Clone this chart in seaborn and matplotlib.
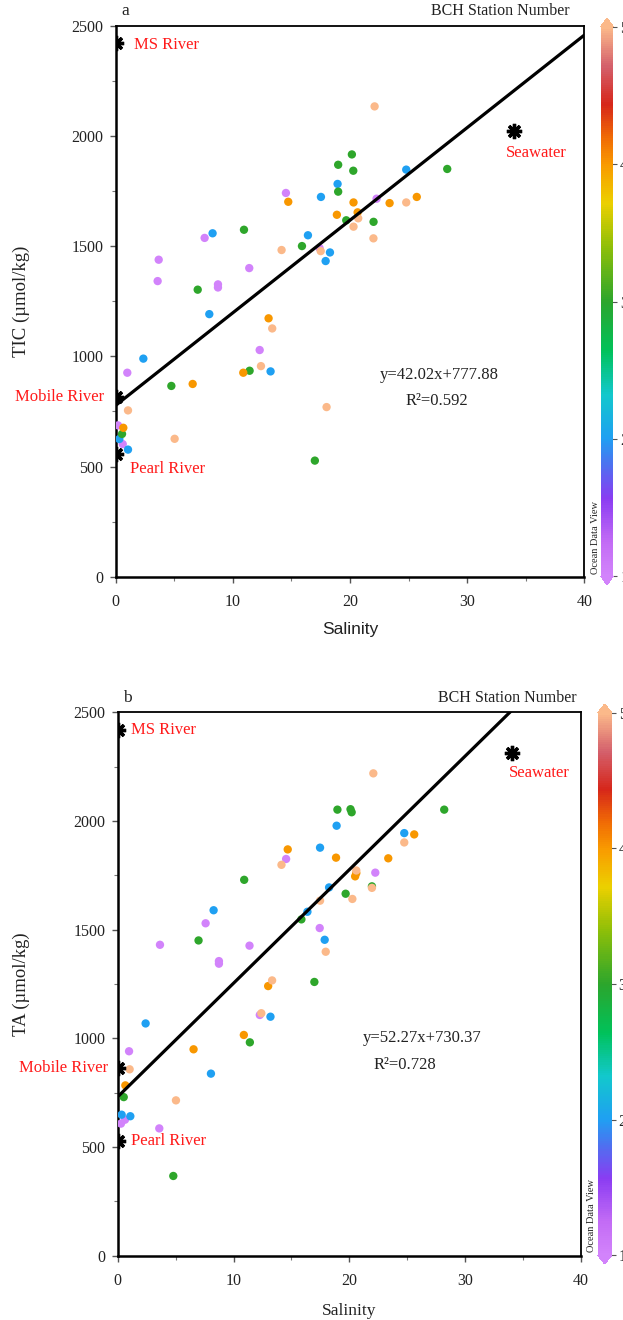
import numpy as np
import pandas as pd
import matplotlib
matplotlib.use("Agg")
import matplotlib.pyplot as plt
import seaborn as sns
from matplotlib.colors import LinearSegmentedColormap, Normalize
from matplotlib.cm import ScalarMappable
import matplotlib.ticker as mticker

# ---------------- data ----------------
# Panel a: salinity vs TIC, coloured by BCH station number
sal_a = [14.53, 22.27, 7.59, 3.67, 3.58, 11.4, 8.73, 8.73, 12.29, 0.99, 0.2, 0.6, 17.4,
         24.8, 18.94, 17.52, 8.27, 16.41, 18.29, 17.92, 7.99, 2.36, 13.22, 0.31, 1.05,
         20.16, 18.99, 20.28, 18.99, 19.68, 22.01, 10.95, 15.9, 7.0, 11.43, 4.75, 0.54, 17.0, 28.3,
         14.73, 20.3, 23.38, 25.7, 18.88, 20.65, 13.05, 10.89, 6.57, 0.65,
         22.1, 24.8, 20.7, 20.3, 22.0, 14.16, 17.5, 13.36, 12.4, 1.05, 18.0, 5.03]
tic_a = [1742, 1716, 1538, 1439, 1342, 1401, 1327, 1313, 1029, 926, 687, 602, 1492,
         1848, 1783, 1724, 1559, 1550, 1472, 1433, 1192, 990, 932, 625, 577,
         1917, 1870, 1843, 1748, 1618, 1611, 1575, 1501, 1303, 935, 866, 648, 527, 1851,
         1702, 1699, 1696, 1724, 1643, 1654, 1173, 926, 875, 676,
         2135, 1699, 1627, 1589, 1536, 1483, 1478, 1127, 956, 755, 770, 626]
stn_a = [1] * 13 + [2] * 12 + [3] * 14 + [4] * 10 + [5] * 12

# Panel b: salinity vs TA
sal_b = [14.54, 22.24, 7.59, 17.44, 3.65, 11.38, 8.74, 8.74, 12.27, 0.98, 0.63, 0.28, 3.59,
         18.9, 24.74, 17.47, 18.25, 16.38, 8.28, 17.87, 13.19, 2.41, 8.05, 0.34, 1.09,
         18.97, 20.1, 20.2, 28.19, 21.95, 10.92, 19.68, 15.86, 6.98, 16.98, 11.41, 0.52, 4.8,
         25.6, 14.68, 18.85, 23.36, 20.6, 20.5, 12.99, 10.89, 6.55, 0.66,
         22.07, 24.74, 14.14, 20.6, 21.95, 20.26, 17.47, 17.96, 13.33, 12.4, 1.03, 5.03]
ta_b = [1825, 1762, 1529, 1507, 1430, 1426, 1355, 1343, 1107, 940, 625, 607, 585,
        1978, 1944, 1877, 1694, 1582, 1589, 1453, 1099, 1068, 837, 648, 641,
        2052, 2054, 2040, 2052, 1699, 1729, 1665, 1547, 1450, 1259, 981, 729, 366,
        1938, 1869, 1831, 1828, 1760, 1745, 1240, 1015, 949, 783,
        2219, 1901, 1798, 1772, 1692, 1641, 1633, 1398, 1266, 1115, 857, 714]
stn_b = [1] * 13 + [2] * 12 + [3] * 13 + [4] * 10 + [5] * 12

# End members
end_names = ["MS River", "Mobile River", "Pearl River", "Seawater"]
end_sal = [0.0, 0.0, 0.0, 34.0]
end_tic = [2421, 814, 557, 2023]
end_ta = [2418, 861, 528, 2314]

# Regression fits: slope, intercept, R^2
fit_a = [42.02, 777.88, 0.592]
fit_b = [52.27, 730.37, 0.728]

station_ticks = [1, 2, 3, 4, 5]
x_ticks = [0, 10, 20, 30, 40]
y_ticks = [0, 500, 1000, 1500, 2000, 2500]

# ---------------- style ----------------
sns.set_theme(style="ticks")
SERIF = ["Liberation Serif", "DejaVu Serif"]
plt.rcParams["font.family"] = SERIF
plt.rcParams["axes.edgecolor"] = "black"
plt.rcParams["axes.linewidth"] = 1.3

# ODV-like colormap (1 .. 5)
odv = LinearSegmentedColormap.from_list("odv", [
    (0.00, "#d283fb"),
    (0.06, "#c36cf5"),
    (0.14, "#8a3cf2"),
    (0.20, "#4f6ff0"),
    (0.25, "#1fa0f2"),
    (0.33, "#12c8cc"),
    (0.41, "#00c25a"),
    (0.50, "#2ca52c"),
    (0.60, "#8fbf08"),
    (0.68, "#ecd000"),
    (0.75, "#f99a00"),
    (0.80, "#f06a05"),
    (0.86, "#d6261a"),
    (0.93, "#d4606c"),
    (1.00, "#fbb98a"),
])
norm = Normalize(vmin=1, vmax=5)
palette = {s: odv(norm(s)) for s in station_ticks}

df_a = pd.DataFrame({"Salinity": sal_a, "TIC": tic_a, "Station": stn_a})
df_b = pd.DataFrame({"Salinity": sal_b, "TA": ta_b, "Station": stn_b})
df_end = pd.DataFrame({"name": end_names, "Salinity": end_sal, "TIC": end_tic, "TA": end_ta})

W, H = 623, 1320
fig = plt.figure(figsize=(W / 100, H / 100), dpi=100)


def px_axes(l, t, r, b):
    return [l / W, 1 - b / H, (r - l) / W, (b - t) / H]


ax_a = fig.add_axes(px_axes(115.7, 26, 584.3, 576.7))
ax_b = fig.add_axes(px_axes(117.7, 712.3, 581, 1255.5))

label_offsets = {
    "a": {"MS River": ((13.5, -1.4), "left"), "Mobile River": ((-8.6, 0), "right"),
          "Pearl River": ((10, -10.8), "left"), "Seawater": ((16, -16), "center")},
    "b": {"MS River": ((9.4, 0), "left"), "Mobile River": ((-7, 0), "right"),
          "Pearl River": ((9.4, 0), "left"), "Seawater": ((20, -14.6), "center")},
}


def draw_panel(ax, df, ycol, fit, ylabel, letter, xlabel_family, xlabel_pad,
               eq_pos, r2_pos, bch_x, ylab_x):
    sns.scatterplot(data=df, x="Salinity", y=ycol, hue="Station", palette=palette,
                    s=36, linewidth=0, legend=False, ax=ax, zorder=3)
    xs = np.array([0.0, 40.0])
    ax.plot(xs, fit[0] * xs + fit[1], color="black", lw=2.3, zorder=4)
    for _, r in df_end.iterrows():
        ax.plot(r["Salinity"], r[ycol], marker=(8, 2, 0), color="black", ms=11,
                mew=2.4, zorder=5, clip_on=True)
        off, ha = label_offsets[letter][r["name"]]
        ax.annotate(r["name"], (r["Salinity"], r[ycol]), xytext=off,
                    textcoords="offset points", ha=ha, va="center", color="#ff1a1a",
                    fontsize=12, family=SERIF, annotation_clip=False)
    ax.set_xlim(0, 40)
    ax.set_ylim(0, 2500)
    ax.set_xticks(x_ticks)
    ax.set_yticks(y_ticks)
    ax.xaxis.set_minor_locator(mticker.MultipleLocator(5))
    ax.yaxis.set_minor_locator(mticker.MultipleLocator(250))
    ax.tick_params(axis="both", which="major", direction="out", length=4.5, width=1,
                   color="#555555", labelsize=11.5, labelcolor="#222222")
    ax.tick_params(axis="y", which="major", pad=4.3)
    ax.tick_params(axis="x", which="major", pad=8)
    ax.tick_params(axis="both", which="minor", direction="out", length=3, width=0.8,
                   color="#777777")
    for sp in ax.spines.values():
        sp.set_visible(True)
        sp.set_linewidth(1.3)
    ax.spines["left"].set_linewidth(1.8)
    ax.spines["bottom"].set_linewidth(1.8)
    ax.set_ylabel(ylabel, fontsize=13.5, family=SERIF, color="#222222")
    ax.set_xlabel("Salinity", fontsize=12.5, family=xlabel_family, color="#222222",
                  labelpad=xlabel_pad)
    ax.yaxis.set_label_coords(ylab_x, 0.5)
    ax.text(eq_pos[0], eq_pos[1], f"y={fit[0]:.2f}x+{fit[1]:.2f}", transform=ax.transAxes,
            ha="center", va="center", fontsize=12, family=SERIF, color="#222222")
    ax.text(r2_pos[0], r2_pos[1], f"R²={fit[2]:.3f}", transform=ax.transAxes,
            ha="center", va="center", fontsize=12, family=SERIF, color="#222222")
    ax.text(0.012, 1.012, letter, transform=ax.transAxes, ha="left", va="bottom",
            fontsize=12.5, family=SERIF, color="#222222")
    ax.text(bch_x, 1.012, "BCH Station Number", transform=ax.transAxes, ha="right",
            va="bottom", fontsize=11.5, family=SERIF, color="#222222")


draw_panel(ax_a, df_a, "TIC", fit_a, "TIC (µmol/kg)", "a",
           ["Liberation Sans", "DejaVu Sans"], 8.5,
           (0.690, 0.366), (0.686, 0.319), 0.968, -0.183)
draw_panel(ax_b, df_b, "TA", fit_b, "TA (µmol/kg)", "b",
           SERIF, 10.5, (0.657, 0.400), (0.620, 0.351), 0.991, -0.189)


def draw_cbar(l, t, r, b, text_x, text_bottom):
    cax = fig.add_axes(px_axes(l, t, r, b))
    sm = ScalarMappable(norm=norm, cmap=odv)
    cb = fig.colorbar(sm, cax=cax, extend="both", extendfrac=0.016, ticks=station_ticks)
    cb.outline.set_visible(False)
    cax.tick_params(axis="y", direction="inout", length=6, width=0.8, color="#555555",
                    labelsize=11.5, labelcolor="#222222", pad=2)
    fig.text(text_x / W, 1 - text_bottom / H, "Ocean Data View", rotation=90,
             ha="center", va="bottom", fontsize=7.5, family=SERIF, color="#222222")


draw_cbar(600.7, 18, 613.3, 585, 595, 574)
draw_cbar(597.7, 704, 611.7, 1264, 592, 1252)

fig.savefig("out.png", dpi=100)
